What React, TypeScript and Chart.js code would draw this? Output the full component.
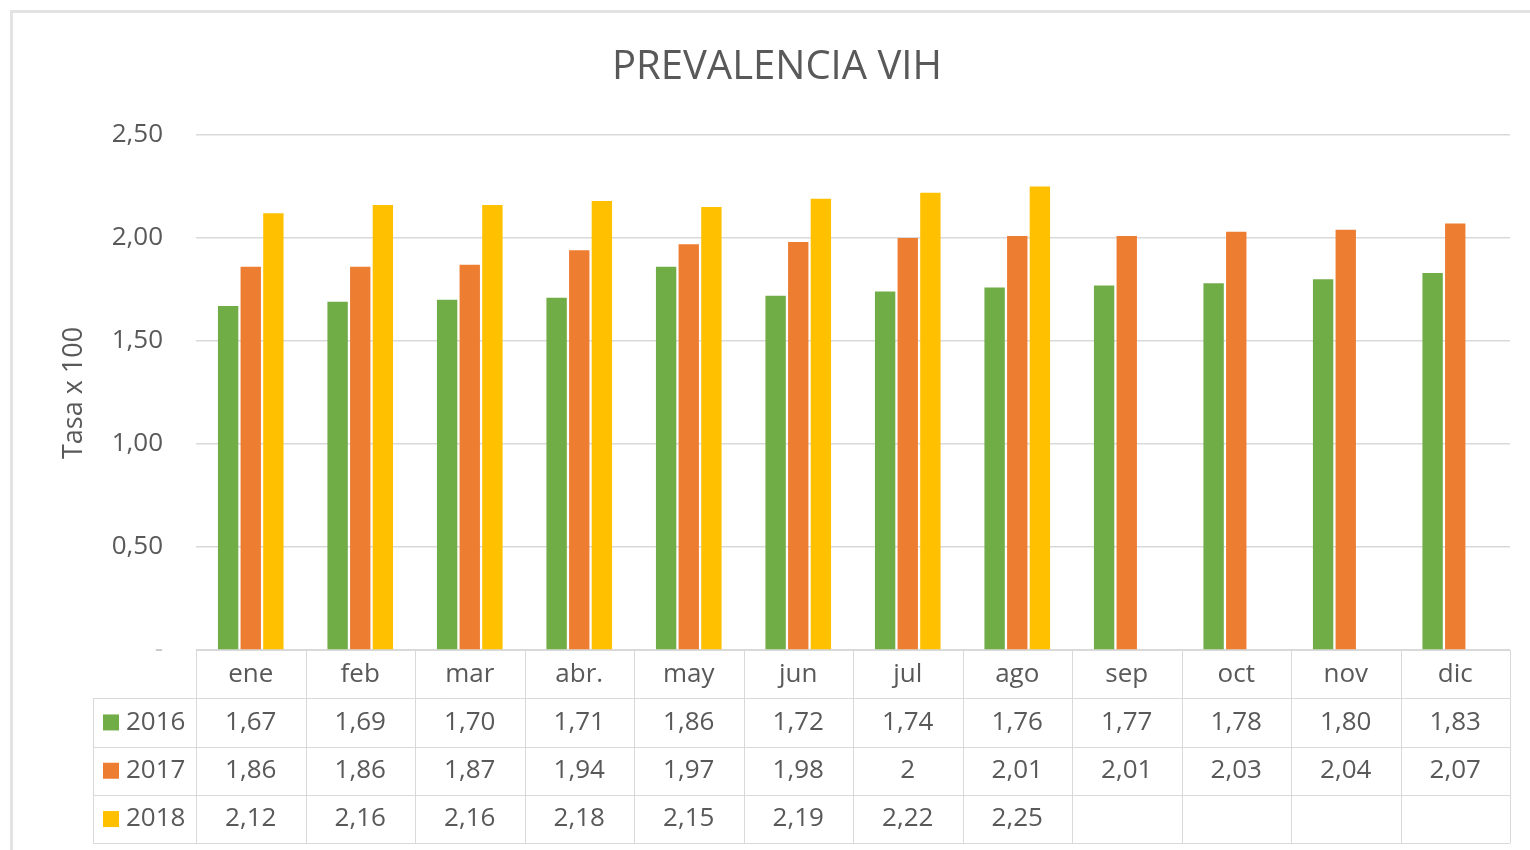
import React, { useEffect, useRef } from "react";
import { Chart, registerables } from "chart.js";

Chart.register(...registerables);

const months = ["ene", "feb", "mar", "abr.", "may", "jun", "jul", "ago", "sep", "oct", "nov", "dic"];
const years = ["2016", "2017", "2018"];
const values2016 = [1.67, 1.69, 1.7, 1.71, 1.86, 1.72, 1.74, 1.76, 1.77, 1.78, 1.8, 1.83];
const values2017 = [1.86, 1.86, 1.87, 1.94, 1.97, 1.98, 2, 2.01, 2.01, 2.03, 2.04, 2.07];
const values2018: (number | null)[] = [2.12, 2.16, 2.16, 2.18, 2.15, 2.19, 2.22, 2.25, null, null, null, null];
const colors = ["#70AD47", "#ED7D31", "#FFC000"];

const FONT = "'Open Sans', 'Liberation Sans', sans-serif";
const TEXT = "#595959";
const GRID = "#D9D9D9";

const fmt = (v: number | null) => {
  if (v === null || v === undefined) return "";
  if (Number.isInteger(v)) return String(v);
  return v.toFixed(2).replace(".", ",");
};

const decorPlugin = {
  id: "decor",
  beforeDraw(chart: any) {
    const ctx = chart.ctx;
    ctx.save();
    ctx.fillStyle = "#ffffff";
    ctx.fillRect(0, 0, chart.width, chart.height);
    ctx.strokeStyle = "#E3E3E3";
    ctx.lineWidth = 3;
    ctx.strokeRect(11.5, 11.5, chart.width + 20, chart.height + 20);
    ctx.restore();
  },
  afterDraw(chart: any) {
    const ctx = chart.ctx;
    const xs = chart.scales.x;
    const area = chart.chartArea;
    ctx.save();
    // title
    ctx.fillStyle = TEXT;
    ctx.font = `40px ${FONT}`;
    ctx.textAlign = "center";
    ctx.textBaseline = "middle";
    ctx.fillText("PREVALENCIA VIH", 777, 68);
    // y axis title
    ctx.save();
    ctx.translate(74, 393);
    ctx.rotate(-Math.PI / 2);
    ctx.font = `27px ${FONT}`;
    ctx.fillText("Tasa x 100", 0, 0);
    ctx.restore();

    // data table
    const top = area.bottom;
    const rowH = 48.3;
    const labelLeft = 93;
    const n = months.length;
    const cw = (area.right - area.left) / n;
    const bottom = top + rowH * 4;
    ctx.strokeStyle = GRID;
    ctx.lineWidth = 1;
    ctx.beginPath();
    ctx.moveTo(area.left, Math.round(top) + 0.5);
    ctx.lineTo(area.right, Math.round(top) + 0.5);
    for (let r = 1; r <= 4; r++) {
      const y = Math.round(top + rowH * r) + 0.5;
      ctx.moveTo(labelLeft, y);
      ctx.lineTo(area.right, y);
    }
    for (let c = 0; c <= n; c++) {
      const x = Math.round(area.left + cw * c) + 0.5;
      ctx.moveTo(x, top);
      ctx.lineTo(x, bottom);
    }
    ctx.moveTo(labelLeft + 0.5, top + rowH);
    ctx.lineTo(labelLeft + 0.5, bottom);
    ctx.stroke();

    ctx.fillStyle = TEXT;
    ctx.textAlign = "center";
    ctx.textBaseline = "middle";
    ctx.font = `26px ${FONT}`;
    months.forEach((m, i) => {
      const x = xs.getPixelForValue(i);
      ctx.fillText(m, x, top + rowH / 2);
    });
    const series = [values2016, values2017, values2018];
    series.forEach((vals, r) => {
      const y = top + rowH * (r + 1) + rowH / 2;
      vals.forEach((v, i) => {
        const x = xs.getPixelForValue(i);
        ctx.fillText(fmt(v), x, y);
      });
      ctx.fillStyle = colors[r];
      ctx.fillRect(103, y - 8, 16, 16);
      ctx.fillStyle = TEXT;
      ctx.textAlign = "left";
      ctx.fillText(years[r], 126, y);
      ctx.textAlign = "center";
    });
    ctx.restore();
  },
};

export default function App() {
  const ref = useRef<HTMLCanvasElement | null>(null);
  useEffect(() => {
    document.body.style.margin = "0";
    document.body.style.overflow = "hidden";
    const canvas = ref.current!;
    const chart = new Chart(canvas, {
      type: "bar",
      data: {
        labels: months,
        datasets: [
          { label: years[0], data: values2016, backgroundColor: colors[0] },
          { label: years[1], data: values2017, backgroundColor: colors[1] },
          { label: years[2], data: values2018, backgroundColor: colors[2] },
        ],
      },
      options: {
        animation: false,
        responsive: false,
        maintainAspectRatio: false,
        layout: { padding: { left: 0, right: 20, top: 135, bottom: 200 } },
        datasets: { bar: { categoryPercentage: 0.62, barPercentage: 0.9 } },
        plugins: {
          legend: { display: false },
          title: { display: false },
          tooltip: { enabled: false },
        },
        scales: {
          x: { display: false },
          y: {
            min: 0,
            max: 2.5,
            afterFit: (s: any) => {
              s.width = 196;
            },
            border: { display: false },
            grid: { color: GRID, lineWidth: 1.5, drawTicks: false },
            ticks: {
              stepSize: 0.5,
              padding: 33,
              color: (c: any) => (c.tick && c.tick.value === 0 ? "#C8C8C8" : TEXT),
              font: { family: FONT, size: 26 },
              callback: (v: any) => (Number(v) === 0 ? "-" : Number(v).toFixed(2).replace(".", ",")),
            },
          },
        },
      },
      plugins: [decorPlugin],
    });
    return () => chart.destroy();
  }, []);
  return (
    <div style={{ width: 1530, height: 850 }}>
      <canvas ref={ref} width={1530} height={850} style={{ display: "block" }} />
    </div>
  );
}
